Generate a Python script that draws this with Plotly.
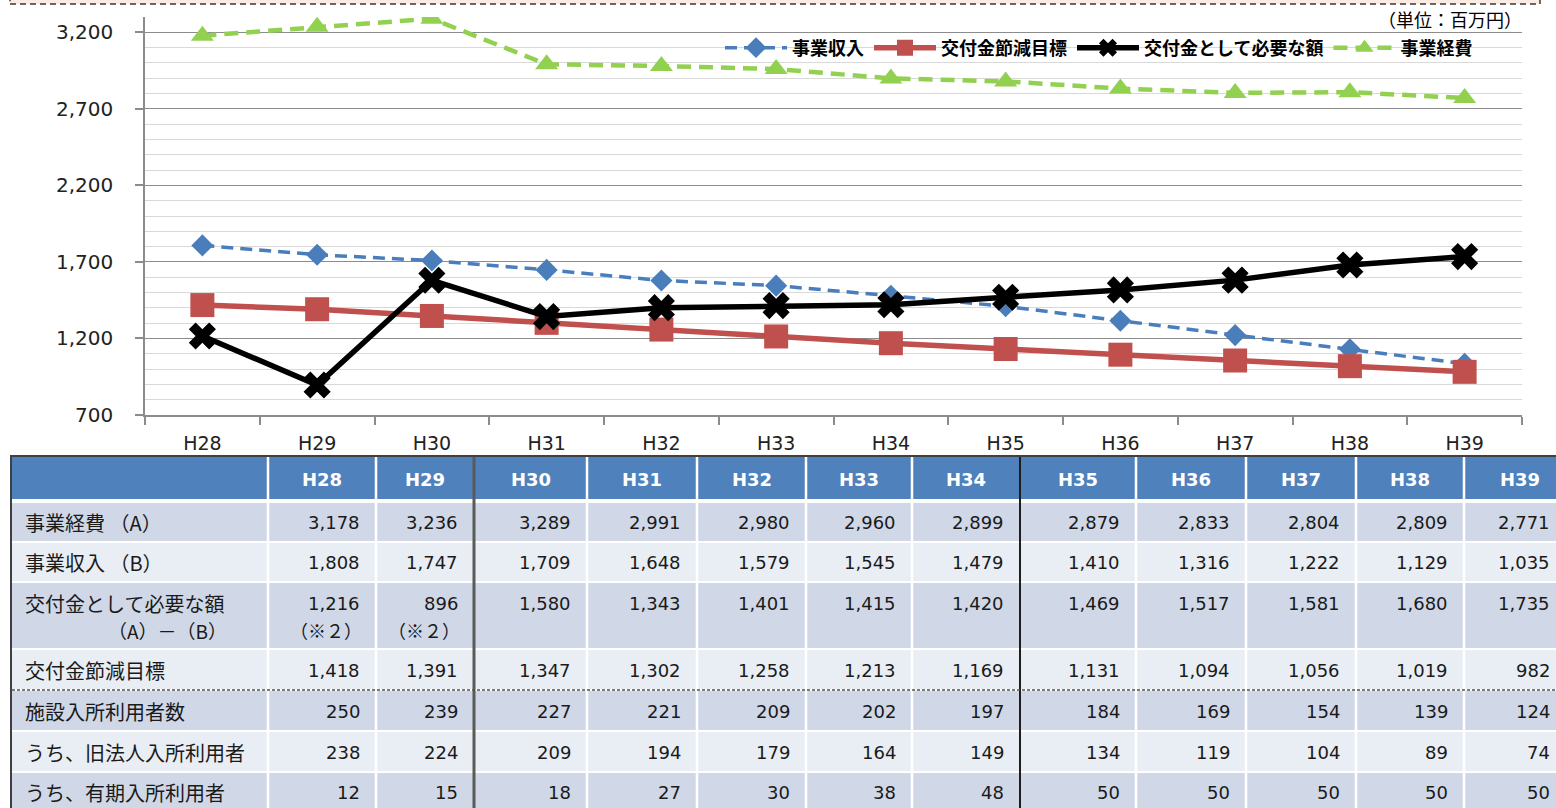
import plotly.graph_objects as go

# ---------------- data ----------------
years = ["H28", "H29", "H30", "H31", "H32", "H33", "H34", "H35", "H36", "H37", "H38", "H39"]
jigyo_keihi = [3178, 3236, 3289, 2991, 2980, 2960, 2899, 2879, 2833, 2804, 2809, 2771]
jigyo_shunyu = [1808, 1747, 1709, 1648, 1579, 1545, 1479, 1410, 1316, 1222, 1129, 1035]
kofukin_hitsuyo = [1216, 896, 1580, 1343, 1401, 1415, 1420, 1469, 1517, 1581, 1680, 1735]
kofukin_setsugen = [1418, 1391, 1347, 1302, 1258, 1213, 1169, 1131, 1094, 1056, 1019, 982]
shisetsu_riyosha = [250, 239, 227, 221, 209, 202, 197, 184, 169, 154, 139, 124]
kyuhojin_riyosha = [238, 224, 209, 194, 179, 164, 149, 134, 119, 104, 89, 74]
yuki_riyosha = [12, 15, 18, 27, 30, 38, 48, 50, 50, 50, 50, 50]
notes_row3 = ["（※２）", "（※２）", "", "", "", "", "", "", "", "", "", ""]

series_names = ["事業収入", "交付金節減目標", "交付金として必要な額", "事業経費"]
row_labels = ["事業経費 （A）", "事業収入 （B）", "交付金として必要な額", "交付金節減目標",
              "施設入所利用者数", "うち、旧法人入所利用者", "うち、有期入所利用者"]
row_label_sub = "（A）－（B）"
unit_label = "（単位：百万円）"
y_ticks = [700, 1200, 1700, 2200, 2700, 3200]

# ---------------- layout helpers ----------------
W, H = 1556, 808
def px(x):
    return x / W
def py(y):
    return 1 - y / H

JP = "Noto Sans CJK JP"
NUM = "DejaVu Sans"

fig = go.Figure()

fig.add_trace(go.Scatter(
    x=years, y=jigyo_shunyu, name=series_names[0], mode="lines+markers",
    line=dict(color="#4A7EBB", width=3.5, dash="12px,7px"),
    marker=dict(symbol="diamond", size=17, color="#4A7EBB")))
fig.add_trace(go.Scatter(
    x=years, y=kofukin_setsugen, name=series_names[1], mode="lines+markers",
    line=dict(color="#C0504D", width=5.5),
    marker=dict(symbol="square", size=24, color="#C0504D")))
fig.add_trace(go.Scatter(
    x=years, y=kofukin_hitsuyo, name=series_names[2], mode="lines+markers",
    line=dict(color="#000000", width=5.5),
    marker=dict(symbol="x", size=24, color="#000000")))
fig.add_trace(go.Scatter(
    x=years, y=jigyo_keihi, name=series_names[3], mode="lines+markers",
    line=dict(color="#92D050", width=4.5, dash="14px,8px"),
    marker=dict(symbol="triangle-up", size=20, color="#92D050")))

fig.update_layout(
    width=W, height=H,
    margin=dict(l=0, r=0, t=0, b=0, autoexpand=False),
    paper_bgcolor="white", plot_bgcolor="white",
    showlegend=True,
    legend=dict(orientation="h", x=px(1478), xanchor="right", y=py(48), yanchor="middle",
                font=dict(family=JP, size=18, color="#000000", weight="bold"),
                bgcolor="rgba(0,0,0,0)", itemwidth=62, tracegroupgap=0),
    xaxis=dict(domain=[px(145), px(1522)], type="category", tickson="boundaries",
               range=[-0.5, 11.5], automargin=False,
               showline=True, linecolor="#8C8C8C", linewidth=1.5,
               ticks="outside", ticklen=8, tickcolor="#8C8C8C", tickwidth=1.5,
               ticklabelstandoff=10,
               showgrid=False, zeroline=False,
               tickfont=dict(family=NUM, size=19, color="#222222")),
    yaxis=dict(domain=[py(415), py(17)], range=[700, 3300], automargin=False,
               tickvals=y_ticks, ticktext=[f"{v:,}" for v in y_ticks],
               showline=True, linecolor="#8C8C8C", linewidth=1.5,
               ticks="outside", ticklen=8, tickcolor="#8C8C8C", tickwidth=1.5,
               ticklabelstandoff=18,
               showgrid=True, gridcolor="#8C8C8C", gridwidth=1.2, zeroline=False,
               minor=dict(dtick=100, tick0=700, showgrid=True, gridcolor="#D9D9D9", gridwidth=1.2),
               tickfont=dict(family=NUM, size=20, color="#222222")),
)

shapes = []
annotations = []

# top dashed text box edge
shapes.append(dict(type="rect", xref="paper", yref="paper",
                   x0=px(10), x1=px(1540), y0=py(4), y1=1.05,
                   fillcolor="#FCEBE0", line=dict(color="#3A3A3A", width=1.5, dash="6px,4px"),
                   layer="below"))

annotations.append(dict(text=unit_label, xref="paper", yref="paper",
                        x=px(1524), y=py(19), xanchor="right", yanchor="middle",
                        showarrow=False, font=dict(family=JP, size=18, color="#000000")))

# ---------------- table ----------------
col_edges = [12, 268, 376, 474, 587, 697, 806, 912, 1020, 1136, 1246, 1356, 1464, 1566]
rows = [  # top, bottom, fill
    (456, 500, "#4F81BD"),
    (502, 542, "#D0D8E8"),
    (542, 582, "#E9EDF4"),
    (582, 649, "#D0D8E8"),
    (649, 690, "#E9EDF4"),
    (690, 731, "#D0D8E8"),
    (731, 772, "#E9EDF4"),
    (772, 812, "#D0D8E8"),
]
shapes.append(dict(type="rect", xref="paper", yref="paper", x0=px(12), x1=px(1576),
                   y0=py(812), y1=py(456), fillcolor="white", line=dict(width=0), layer="above"))
for i, (t, b, c) in enumerate(rows):
    shapes.append(dict(type="rect", xref="paper", yref="paper", x0=px(12), x1=px(1576),
                       y0=py(b - 1), y1=py(t + 1), fillcolor=c, line=dict(width=0), layer="above"))
for xe in col_edges[1:-1]:
    if xe in (474, 1020):
        continue
    shapes.append(dict(type="line", xref="paper", yref="paper", x0=px(xe), x1=px(xe),
                       y0=py(812), y1=py(456), line=dict(color="white", width=2.5), layer="above"))
shapes.append(dict(type="line", xref="paper", yref="paper", x0=px(12), x1=px(1576),
                   y0=py(501), y1=py(501), line=dict(color="white", width=3.5), layer="above"))
shapes.append(dict(type="line", xref="paper", yref="paper", x0=px(474), x1=px(474),
                   y0=py(812), y1=py(456), line=dict(color="#5A5A5A", width=3), layer="above"))
shapes.append(dict(type="line", xref="paper", yref="paper", x0=px(1020), x1=px(1020),
                   y0=py(812), y1=py(456), line=dict(color="#1E1E1E", width=2), layer="above"))
shapes.append(dict(type="line", xref="paper", yref="paper", x0=px(11), x1=px(11),
                   y0=py(812), y1=py(455), line=dict(color="#404040", width=2), layer="above"))
shapes.append(dict(type="line", xref="paper", yref="paper", x0=px(10), x1=px(1576),
                   y0=py(456), y1=py(456), line=dict(color="#404040", width=2), layer="above"))
shapes.append(dict(type="line", xref="paper", yref="paper", x0=px(12), x1=px(1576),
                   y0=py(690), y1=py(690), line=dict(color="#505050", width=1.5, dash="3px,2px"),
                   layer="above"))

for j, yr in enumerate(years):
    xc = (col_edges[j + 1] + col_edges[j + 2]) / 2
    if j == len(years) - 1:
        xc = col_edges[j + 1] + 56
    annotations.append(dict(text=yr, xref="paper", yref="paper", x=px(xc), y=py(479),
                            xanchor="center", yanchor="middle", showarrow=False,
                            font=dict(family=NUM, size=18, color="white", weight="bold")))

row_values = [jigyo_keihi, jigyo_shunyu, kofukin_hitsuyo, kofukin_setsugen,
              shisetsu_riyosha, kyuhojin_riyosha, yuki_riyosha]
row_text_y = [522, 562, 603, 670, 711, 752, 792]

for r, (lab, vals, yc) in enumerate(zip(row_labels, row_values, row_text_y)):
    annotations.append(dict(text=lab, xref="paper", yref="paper", x=px(23), y=py(yc),
                            xanchor="left", yanchor="middle", showarrow=False,
                            font=dict(family=JP, size=20, color="#1A1A1A")))
    for j, v in enumerate(vals):
        xr = col_edges[j + 2] - 14
        annotations.append(dict(text=f"{v:,}", xref="paper", yref="paper", x=px(xr), y=py(yc),
                                xanchor="right", yanchor="middle", showarrow=False,
                                font=dict(family=NUM, size=18, color="#1A1A1A")))
annotations.append(dict(text=row_label_sub, xref="paper", yref="paper", x=px(229), y=py(630),
                        xanchor="right", yanchor="middle", showarrow=False,
                        font=dict(family=JP, size=19, color="#1A1A1A")))
for j, note in enumerate(notes_row3):
    if note:
        xr = col_edges[j + 2] - 14
        annotations.append(dict(text=note, xref="paper", yref="paper", x=px(xr + 2), y=py(630),
                                xanchor="right", yanchor="middle", showarrow=False,
                                font=dict(family=JP, size=18, color="#1A1A1A")))

fig.update_layout(shapes=shapes, annotations=annotations)

post = (
    "document.body.style.margin='0px';"
    "document.body.style.overflow='hidden';"
)
fig.write_html("out.html", config={"displayModeBar": False}, post_script=post)
